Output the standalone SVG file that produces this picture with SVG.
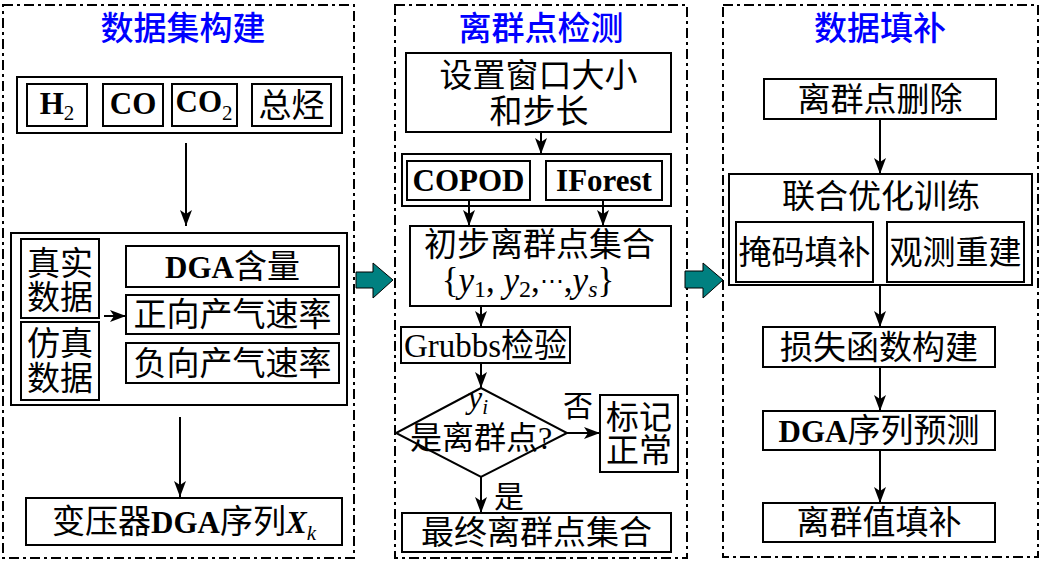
<svg xmlns="http://www.w3.org/2000/svg" width="1043" height="561" viewBox="0 0 1043 561">
<style>
.panel{fill:none;stroke:#000;stroke-width:2;stroke-dasharray:10 4 3 4}
.box{fill:#fff;stroke:#000;stroke-width:2}
.grp{fill:none;stroke:#000;stroke-width:2}
.t{font-family:'Liberation Serif','Noto Sans CJK SC',serif;font-size:33px;fill:#000;text-anchor:middle}
.title{font-family:'Noto Sans CJK SC',sans-serif;font-size:33px;fill:#0000ff;text-anchor:middle;font-weight:500}
.b{font-weight:bold;font-size:31px}
.i{font-style:italic;font-family:'Liberation Serif',serif}
.sub{font-size:21px}
.con{stroke:#000;stroke-width:2;fill:none;marker-end:url(#ah)}
.blk{fill:#008080;stroke:#000;stroke-width:1}
</style>
<defs>
<marker id="ah" viewBox="0 0 16 12" markerWidth="16" markerHeight="12" refX="16" refY="6" orient="auto" markerUnits="userSpaceOnUse">
<path d="M0,0 L16,6 L0,12 L4,6 z" fill="#000"/>
</marker>
</defs>
<rect width="1043" height="561" fill="#fff"/>

<g id="panel-dataset">
<rect class="panel" x="3" y="5" width="351" height="553"/>
<text class="title" x="183" y="40">数据集构建</text>
</g>
<g id="panel-detect">
<rect class="panel" x="395" y="5" width="292" height="553"/>
<text class="title" x="541" y="40">离群点检测</text>
</g>
<g id="panel-fill">
<rect class="panel" x="723" y="5" width="315" height="552"/>
<text class="title" x="880" y="40">数据填补</text>
</g>

<g id="gas-group">
<rect class="grp" x="17" y="77" width="325" height="56"/>
</g>
<g id="h2">
<rect class="box" x="27" y="84" width="60" height="42"/>
<text class="t" x="57" y="114"><tspan class="b">H</tspan><tspan class="sub" dy="6">2</tspan></text>
</g>
<g id="co">
<rect class="box" x="103" y="84" width="60" height="42"/>
<text class="t" x="133" y="114"><tspan class="b">CO</tspan></text>
</g>
<g id="co2">
<rect class="box" x="172" y="84" width="65" height="42"/>
<text class="t" x="204" y="112"><tspan class="b">CO</tspan><tspan class="sub" dy="8">2</tspan></text>
</g>
<g id="total-hc">
<rect class="box" x="252" y="84" width="79" height="42"/>
<text class="t" x="291.5" y="117">总烃</text>
</g>

<g id="data-group">
<rect class="grp" x="11" y="233" width="336" height="172"/>
</g>
<g id="real-data">
<rect class="box" x="21" y="239" width="78" height="79"/>
<text class="t" x="60" y="275">真实</text>
<text class="t" x="60" y="309">数据</text>
</g>
<g id="sim-data">
<rect class="box" x="21" y="322" width="78" height="78"/>
<text class="t" x="60" y="355">仿真</text>
<text class="t" x="60" y="390">数据</text>
</g>
<g id="dga-content">
<rect class="box" x="126" y="246" width="213" height="41"/>
<text class="t" x="232.5" y="278"><tspan class="b">DGA</tspan>含量</text>
</g>
<g id="pos-rate">
<rect class="box" x="126" y="295" width="213" height="39"/>
<text class="t" x="232.5" y="326">正向产气速率</text>
</g>
<g id="neg-rate">
<rect class="box" x="126" y="343" width="213" height="40"/>
<text class="t" x="232.5" y="375">负向产气速率</text>
</g>
<g id="dga-seq">
<rect class="box" x="26" y="498" width="316" height="47"/>
<text class="t" x="184" y="533">变压器<tspan class="b">DGA</tspan>序列<tspan class="b i">X</tspan><tspan class="i sub" dy="7">k</tspan></text>
</g>

<g id="window">
<rect class="box" x="406" y="53" width="265" height="79"/>
<text class="t" x="538.5" y="87">设置窗口大小</text>
<text class="t" x="539" y="123">和步长</text>
</g>
<g id="algo-group">
<rect class="grp" x="402" y="154" width="269" height="52"/>
</g>
<g id="copod">
<rect class="box" x="407" y="161" width="123" height="39"/>
<text class="t" x="468.5" y="191"><tspan class="b">COPOD</tspan></text>
</g>
<g id="iforest">
<rect class="box" x="546" y="161" width="116" height="39"/>
<text class="t" x="604" y="191"><tspan class="b">IForest</tspan></text>
</g>
<g id="initial-set">
<rect class="box" x="410" y="226" width="261" height="80"/>
<text class="t" x="539.5" y="256">初步离群点集合</text>
<text class="t" x="528" y="292" style="font-size:35px">{<tspan class="i">y</tspan><tspan style="font-size:24px" dy="5">1</tspan><tspan dy="-5">, </tspan><tspan class="i">y</tspan><tspan style="font-size:24px" dy="5">2</tspan><tspan dy="-5">,</tspan><tspan font-family="DejaVu Serif" font-size="24" dy="-3">⋯</tspan><tspan dy="3">,</tspan><tspan class="i">y</tspan><tspan class="i" style="font-size:24px" dy="5">s</tspan><tspan dy="-5">}</tspan></text>
</g>
<g id="grubbs">
<rect class="box" x="401" y="327" width="169" height="36"/>
<text class="t" x="485.5" y="357">Grubbs检验</text>
</g>
<g id="decision">
<polygon class="box" points="481,388 567,433 481,477 396,433"/>
<text class="t" x="478" y="408"><tspan class="i" style="font-size:32px">y</tspan><tspan class="i sub" dy="6">i</tspan></text>
<text class="t" x="481" y="449" style="font-size:32px">是离群点?</text>
</g>
<g id="mark-normal">
<rect class="box" x="600" y="395" width="78" height="77"/>
<text class="t" x="639" y="429">标记</text>
<text class="t" x="639" y="462">正常</text>
</g>
<g id="final-set">
<rect class="box" x="402" y="513" width="269" height="39"/>
<text class="t" x="536.5" y="544">最终离群点集合</text>
</g>

<g id="delete">
<rect class="box" x="764" y="79" width="232" height="40"/>
<text class="t" x="880" y="111">离群点删除</text>
</g>
<g id="joint-train">
<rect class="grp" x="729" y="174" width="303" height="111"/>
<text class="t" x="881" y="208">联合优化训练</text>
</g>
<g id="mask-fill">
<rect class="box" x="736" y="222" width="137" height="60"/>
<text class="t" x="804.5" y="264">掩码填补</text>
</g>
<g id="obs-recon">
<rect class="box" x="887" y="222" width="137" height="60"/>
<text class="t" x="955.5" y="264">观测重建</text>
</g>
<g id="loss">
<rect class="box" x="763" y="327" width="232" height="40"/>
<text class="t" x="879" y="359">损失函数构建</text>
</g>
<g id="predict">
<rect class="box" x="763" y="411" width="232" height="39"/>
<text class="t" x="879" y="442"><tspan class="b">DGA</tspan>序列预测</text>
</g>
<g id="outlier-fill">
<rect class="box" x="763" y="503" width="232" height="39"/>
<text class="t" x="879" y="534">离群值填补</text>
</g>

<g id="connectors">
<line class="con" x1="186" y1="143" x2="186" y2="226"/>
<line class="con" x1="104" y1="316" x2="126" y2="316"/>
<line class="con" x1="180" y1="417" x2="180" y2="497"/>
<line class="con" x1="541" y1="132" x2="541" y2="154"/>
<line class="con" x1="469" y1="200" x2="469" y2="226"/>
<line class="con" x1="603" y1="200" x2="603" y2="226"/>
<line class="con" x1="481" y1="306" x2="481" y2="327"/>
<line class="con" x1="481" y1="363" x2="481" y2="388"/>
<line class="con" x1="567" y1="433" x2="600" y2="433"/>
<line class="con" x1="481" y1="477" x2="481" y2="513"/>
<line class="con" x1="880" y1="119" x2="880" y2="174"/>
<line class="con" x1="880" y1="285" x2="880" y2="327"/>
<line class="con" x1="880" y1="367" x2="880" y2="411"/>
<line class="con" x1="880" y1="450" x2="880" y2="503"/>
<text class="t" x="578" y="416" style="font-size:30px">否</text>
<text class="t" x="509" y="507" style="font-size:30px">是</text>
<polygon class="blk" points="356,272 373,272 373,263 393,280 373,298 373,288 356,288"/>
<polygon class="blk" points="685,271 703,271 703,263 723,280 703,298 703,288 685,288"/>
</g>
</svg>
